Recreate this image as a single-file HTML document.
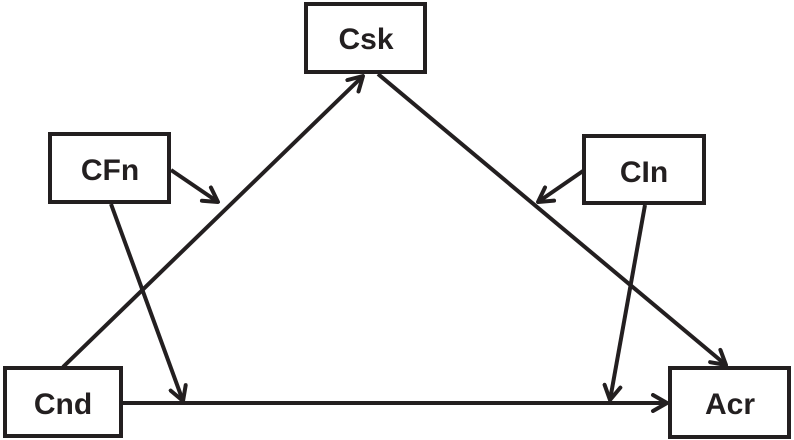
<!DOCTYPE html>
<html><head><style>
html,body{margin:0;padding:0;background:#fff;}
svg{display:block;}
text{font-family:"Liberation Sans",sans-serif;font-weight:bold;font-size:30px;fill:#231f20;}
</style></head><body>
<svg width="794" height="440" viewBox="0 0 794 440" xmlns="http://www.w3.org/2000/svg">
<defs>
<marker id="a" viewBox="0 0 20 20" refX="18" refY="10" markerWidth="20" markerHeight="20" markerUnits="userSpaceOnUse" orient="auto">
<polyline points="4,2 18,10 4,18" fill="none" stroke="#231f20" stroke-width="4" stroke-linecap="round" stroke-linejoin="round"/>
</marker>
</defs>
<g fill="none" stroke="#231f20" stroke-width="4">
<rect x="306" y="4" width="119" height="68"/>
<rect x="50" y="134" width="119" height="68"/>
<rect x="584" y="136" width="120" height="67"/>
<rect x="5" y="368" width="116" height="68"/>
<rect x="670" y="368" width="119" height="69"/>
<line x1="63" y1="367" x2="363" y2="76" marker-end="url(#a)"/>
<line x1="378" y1="74" x2="726" y2="365" marker-end="url(#a)"/>
<line x1="121" y1="403" x2="667" y2="403" marker-end="url(#a)"/>
<line x1="171" y1="170" x2="218" y2="202" marker-end="url(#a)"/>
<line x1="111" y1="204" x2="183" y2="401" marker-end="url(#a)"/>
<line x1="583" y1="171" x2="538" y2="202" marker-end="url(#a)"/>
<line x1="645" y1="205" x2="610" y2="400" marker-end="url(#a)"/>
</g>
<text x="366" y="49" text-anchor="middle">Csk</text>
<text x="110" y="180" text-anchor="middle">CFn</text>
<text x="644" y="182" text-anchor="middle">CIn</text>
<text x="63" y="414" text-anchor="middle">Cnd</text>
<text x="730" y="414" text-anchor="middle">Acr</text>
</svg>
</body></html>
